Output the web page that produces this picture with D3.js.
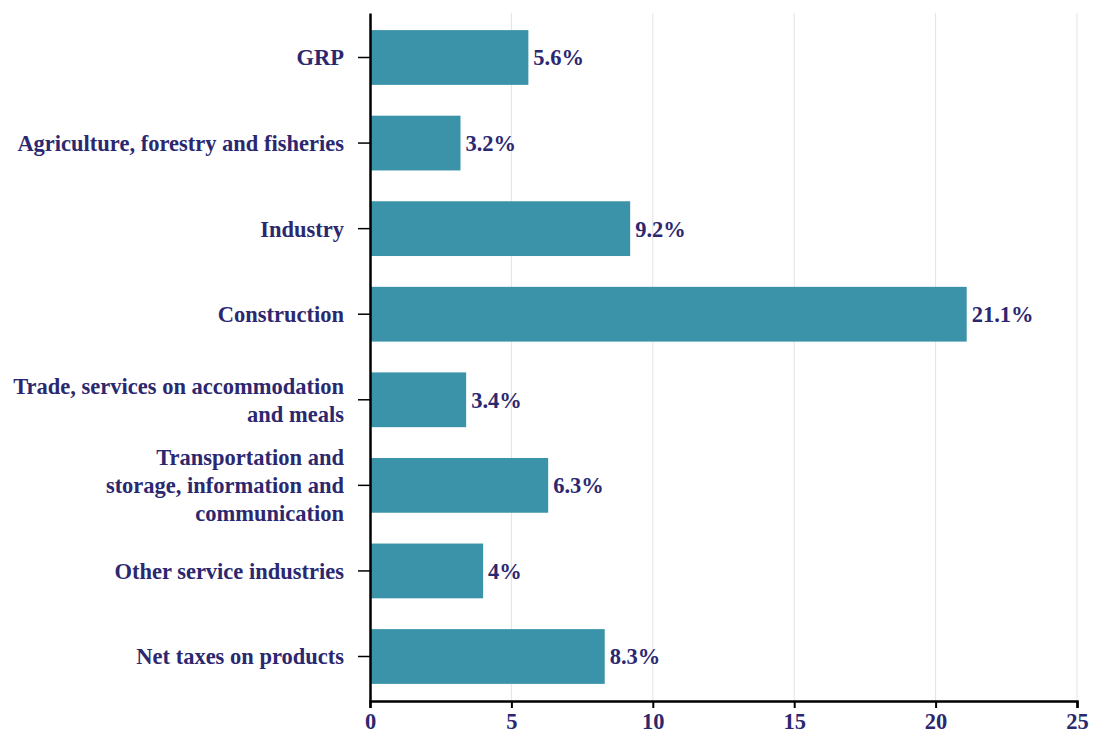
<!DOCTYPE html>
<html>
<head>
<meta charset="utf-8">
<script src="https://cdn.jsdelivr.net/npm/d3@7"></script>
<style>
  html, body { margin: 0; padding: 0; background: #ffffff; }
  svg { display: block; }
</style>
</head>
<body>
<svg id="chart" width="1094" height="736"></svg>
<script>
const categories = [
  "GRP",
  "Agriculture, forestry and fisheries",
  "Industry",
  "Construction",
  "Trade, services on accommodation|and meals",
  "Transportation and|storage, information and|communication",
  "Other service industries",
  "Net taxes on products"
];
const values = [5.6, 3.2, 9.2, 21.1, 3.4, 6.3, 4, 8.3];
const valueLabels = ["5.6%", "3.2%", "9.2%", "21.1%", "3.4%", "6.3%", "4%", "8.3%"];
const xTicks = [0, 5, 10, 15, 20, 25];

const W = 1094, H = 736;
const margin = { top: 13, right: 17, bottom: 35, left: 370 };
const innerW = W - margin.left - margin.right;
const innerH = H - margin.top - margin.bottom;
const textColor = "#2c2870";
const barColor = "#3a93a8";
const font = "'Liberation Serif', 'Times New Roman', serif";
const fs = 22.5;

const svg = d3.select("#chart");
const g = svg.append("g").attr("transform", `translate(${margin.left},${margin.top})`);

const x = d3.scaleLinear().domain([0, 25]).range([0, innerW]);
const y = d3.scaleBand().domain(categories).range([0, innerH]).paddingInner(0.36).paddingOuter(0.2);

// grid
g.append("g").selectAll("line").data(xTicks.filter(t => t > 0)).join("line")
  .attr("x1", d => x(d)).attr("x2", d => x(d))
  .attr("y1", 0).attr("y2", innerH)
  .attr("stroke", "#e3e3e3").attr("stroke-width", 1);

// bars
g.append("g").selectAll("rect").data(categories).join("rect")
  .attr("x", x(0))
  .attr("y", d => y(d))
  .attr("width", (d, i) => x(values[i]) - x(0))
  .attr("height", y.bandwidth())
  .attr("fill", barColor);

// value labels
g.append("g").selectAll("text").data(categories).join("text")
  .attr("x", (d, i) => x(values[i]) + 5)
  .attr("y", d => y(d) + y.bandwidth() / 2)
  .attr("dy", "0.35em")
  .attr("font-family", font)
  .attr("font-weight", "bold")
  .attr("font-size", fs)
  .attr("fill", textColor)
  .text((d, i) => valueLabels[i]);

// x axis
const xAxis = g.append("g").attr("transform", `translate(0,${innerH})`)
  .call(d3.axisBottom(x).tickValues(xTicks).tickSize(7).tickPadding(5).tickSizeOuter(7));
xAxis.select(".domain").attr("stroke", "#000").attr("stroke-width", 2.5);
xAxis.selectAll(".tick line").attr("stroke", "#000").attr("stroke-width", 2);
xAxis.selectAll(".tick text")
  .attr("font-family", font).attr("font-weight", "bold").attr("font-size", fs)
  .attr("fill", textColor);

// y axis
const yAxis = g.append("g")
  .call(d3.axisLeft(y).tickSize(12).tickPadding(4).tickSizeOuter(0).tickFormat(""));
yAxis.select(".domain").attr("stroke", "#000").attr("stroke-width", 2.5);
yAxis.selectAll(".tick line").attr("stroke", "#000").attr("stroke-width", 1.5);

const lineH = 28;
yAxis.selectAll(".tick").each(function(d) {
  const parts = d.split("|");
  const t = d3.select(this).append("text")
    .attr("x", -26)
    .attr("text-anchor", "end")
    .attr("font-family", font).attr("font-weight", "bold").attr("font-size", fs)
    .attr("fill", textColor);
  parts.forEach((p, i) => {
    t.append("tspan")
      .attr("x", -26)
      .attr("y", (i - (parts.length - 1) / 2) * lineH)
      .attr("dy", "0.35em")
      .text(p);
  });
});
</script>
</body>
</html>
